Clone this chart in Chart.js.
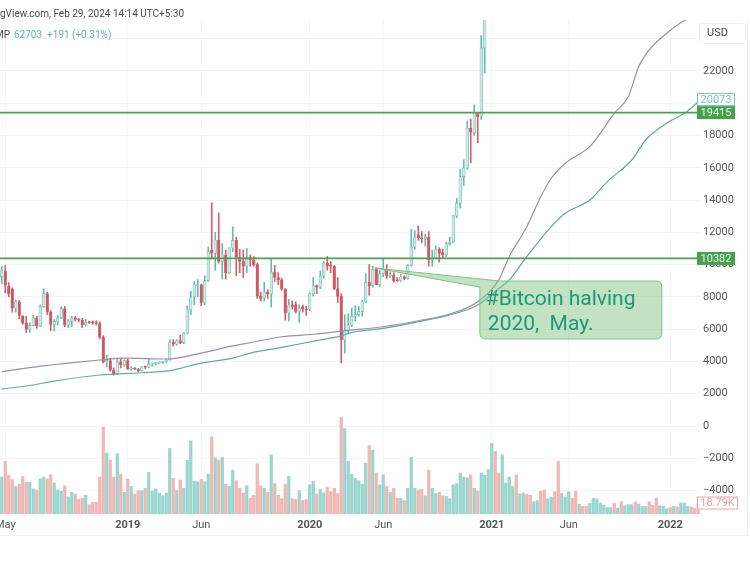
<!DOCTYPE html>
<html><head><meta charset="utf-8">
<style>
html,body{margin:0;padding:0;background:#fff;width:750px;height:562px;overflow:hidden;font-family:Roboto,sans-serif}
#wrap{position:relative;width:750px;height:562px}
canvas{position:absolute;left:0;top:0}
.h{position:absolute;white-space:nowrap;font-size:10px;line-height:14px}
</style>
<script src="https://cdn.jsdelivr.net/npm/chart.js@4/dist/chart.umd.min.js"></script>
</head><body><div id="wrap">
<canvas id="c" width="750" height="562"></canvas>
<div class="h" style="left:0;top:7px;color:#4a4a4a">gView.com, Feb 29, 2024 14:14 UTC+5:30</div>
<div class="h" style="left:-5px;top:28px;color:#4a4a4a">MP</div>
<div class="h" style="left:14px;top:28px;color:#5fb5aa">62703</div>
<div class="h" style="left:47px;top:28px;color:#5fb5aa">+191 (+0.31%)</div>
</div>
<script>
const weekCount = 200;
const tickWeeks = [1, 36, 57, 88, 109, 140, 162, 191];
const tickLabels = ['May', '2019', 'Jun', '2020', 'Jun', '2021', 'Jun', '2022'];
const yearTicks = ['2019', '2020', '2021', '2022'];
const priceTicks = [-4000,-2000,0,2000,4000,6000,8000,10000,12000,14000,16000,18000,20000,22000,24000];
const hiddenPriceTicks = [20000, 24000];

const opens = [9240,9600,8650,8500,7300,7700,6800,6400,6000,6220,6700,6200,7400,8200,7050,6300,6480,6700,7270,6250,6500,6700,6600,6550,6280,6420,6410,6380,6350,5510,3970,4050,3470,3200,3980,3800,4050,3530,3540,3530,3420,3660,3640,3830,3860,3900,3940,3970,4100,5200,5070,5300,5150,5750,7200,8000,8700,8750,7650,9000,10900,10700,11520,10200,10600,9500,11030,11500,10450,10200,9900,10450,10300,10000,8050,7950,8300,8200,9550,9200,9050,8500,7000,7500,7500,7100,7400,7250,7250,8200,8700,8600,9300,10100,9950,9900,8500,8030,5330,5900,6250,6800,6900,7100,7700,8900,8700,9700,8750,9450,9700,9300,9350,9050,9000,9250,9150,9950,11090,11850,11650,11600,11700,10300,10450,10950,10750,10600,11300,11400,13010,13800,15450,15980,18460,18150,19360,19190,23420];
const highs = [9900,9950,8880,8560,7800,7780,6850,6800,6400,6850,6800,7500,8500,8280,7150,6600,6880,7400,7400,6600,6800,6800,6650,6680,6600,6500,6520,6520,6450,5600,4400,4200,3600,4200,4200,4100,4150,3680,3620,3560,3680,3720,4200,3900,3920,3980,4020,4150,5350,5350,5350,5630,5800,7450,8350,8950,9080,8800,9300,11100,13830,12000,13200,11300,10900,11050,12350,11700,10950,10900,11000,10600,10500,10100,8300,8900,8450,10400,9950,9500,9150,8500,7850,7750,7700,7500,7500,7400,8250,9200,8750,9600,10200,10500,10200,9950,9200,8200,6900,6950,7300,7450,7400,7800,9450,10000,9900,9800,9650,10400,10000,9550,9500,9200,9400,9300,10000,12200,12100,12400,12050,11900,12050,10900,11150,11050,10950,11400,11700,13050,14100,15900,16500,18900,19000,19890,19400,24200,28400];
const lows = [8800,8250,8000,7050,7050,6650,6300,5780,5800,6200,6050,6150,7350,6900,5900,5880,6250,6650,6150,6100,6150,6500,6450,6100,6200,6350,6300,6250,5400,3900,3650,3400,3150,3180,3600,3700,3500,3450,3480,3350,3400,3550,3620,3700,3780,3850,3880,3920,4080,4950,5000,5100,5100,5700,6900,7500,8000,7450,7500,8950,10350,9660,10100,9100,9100,9450,10800,9300,9500,9200,9500,9900,9900,7900,7750,7750,7900,7370,8950,8750,8400,6550,6500,7250,7000,6430,7050,6850,7150,8050,8200,8500,9150,9650,9500,8450,7650,3900,4520,5700,6150,6500,6800,6800,7650,8100,8600,8800,8650,9250,9150,9200,8900,8950,8950,9050,9100,9900,10950,11500,11350,11150,9900,9900,10350,10150,10400,10500,11200,11350,12900,13500,14900,15900,16300,18000,17550,19000,21870];
const closes = [9650,8730,8200,7300,7700,6850,6400,6000,6220,6700,6200,7400,8200,7050,6300,6480,6700,7270,6250,6500,6700,6600,6550,6280,6420,6410,6380,6350,5510,3970,4050,3470,3200,3980,3800,4050,3530,3540,3530,3420,3660,3640,3830,3860,3900,3940,3970,4090,5200,5070,5300,5150,5750,7200,8000,8750,8750,7650,9000,10800,10700,11520,10200,10600,9500,11030,11500,10450,10200,9900,10450,10300,10000,8050,7900,8300,8200,9550,9200,9050,8500,7000,7500,7400,7100,7300,7250,7200,8200,8700,8600,9300,10100,9900,9900,8500,8030,5330,5900,6250,6800,6900,7100,7700,8900,8700,9700,8750,9450,9700,9300,9350,9000,9000,9250,9150,9950,11090,11700,11650,11600,11700,10300,10450,10950,10700,10600,11300,11400,13010,13800,15450,15980,18460,18200,19390,19160,23420,26500];

const volumes = [63,90,66,59,47,51,64,54,54,43,41,60,63,60,67,53,41,39,48,29,37,34,25,27,32,16,20,20,63,148,104,92,63,103,68,37,60,47,34,40,40,44,71,39,43,36,31,36,112,61,40,58,44,92,125,56,55,59,55,68,132,96,92,97,51,47,75,57,44,36,48,27,32,86,48,44,37,101,52,32,26,51,64,26,25,40,23,25,50,56,34,42,36,46,38,44,35,165,146,90,68,61,57,51,87,117,109,70,50,67,47,37,44,27,27,23,44,97,44,41,42,31,75,44,35,37,31,30,26,50,52,70,63,62,67,44,39,70,66,76,121,107,70,101,53,63,47,67,34,36,34,32,21,23,39,41,26,29,38,90,35,29,38,27,39,17,13,13,18,27,26,19,15,11,11,18,10,21,14,16,16,21,17,13,13,21,15,27,14,13,9,11,13,12,19,19,13,12,10,18.79];
const lateVolumeUp = [1,1,0,0,1,1,1,1,0,1,1,0,0,1,1,0,0,1,1,0,0,1,1,1,0,0,1,0,0,1,1,1,1,1,1,1,0,1,0,1,1,1,0,1,1,1,0,0,0,1,1,1,0,1,0,1,1,1,0,0,0];

const slowWeeks = [0,9,14,19,28,35,47,57,66,71,80,90,97,109,119,128,136,142,145,150,154,157,161,168,171,175,179,182,185,190,195,199];
const slowAverage = [3360,3650,3780,3900,4090,4210,4150,4520,4960,5160,5530,5700,5880,6150,6520,6940,7700,9050,10490,12350,14200,15350,16280,17310,18130,19370,20400,22270,23300,24330,25120,25500];
const fastWeeks = [0,9,14,28,40,48,57,66,71,80,90,97,100,109,119,128,136,142,145,150,157,161,168,173,180,184,190,195,199];
const fastAverage = [2290,2540,2750,3160,3300,3430,3900,4210,4520,4870,5290,5580,5800,6050,6460,6880,7500,8500,9050,10490,12350,13180,14000,15140,16480,17720,18770,19370,20073];

const supportLevels = [19415, 10382];
const lastFast = 20073;
const lastVolume = '18.79K';
const noteLines = ['#Bitcoin halving', '2020,  May.'];

const weekLabels = [];
for (let i = 0; i < weekCount; i++) weekLabels.push('w' + i);

const TEAL = '#67b9ae', TEAL_FILL = '#cdeae5', RED = '#d2616c', RED_FILL = '#cf5560';
const VOL_TEAL = '#9ad6cf', VOL_RED = '#f0b7b4';
const isUp = i => closes[i] >= opens[i];
const volUp = i => i < opens.length ? isUp(i) : lateVolumeUp[i - opens.length] === 1;

const overlay = {
  id: 'overlay',
  afterDatasetsDraw(chart) {
    const c = chart.ctx, a = chart.chartArea, X = chart.scales.x, Y = chart.scales.y, V = chart.scales.y2;
    const badgeL = 697, badgeR = 735;
    c.save();
    c.strokeStyle = '#4f9f53'; c.lineWidth = 1.8;
    supportLevels.forEach(v => { const p = Y.getPixelForValue(v); c.beginPath(); c.moveTo(0, p); c.lineTo(a.right, p); c.stroke(); });

    // callout
    const bx0 = X.getPixelForValue(136.6), bx1 = X.getPixelForValue(188.6);
    const by0 = Y.getPixelForValue(8984), by1 = Y.getPixelForValue(5390);
    const ax = X.getPixelForValue(106.6), ay = Y.getPixelForValue(9790);
    const rr = 6;
    c.beginPath();
    c.moveTo(ax, ay);
    c.lineTo(bx0 + 20, by0);
    c.lineTo(bx1 - rr, by0); c.quadraticCurveTo(bx1, by0, bx1, by0 + rr);
    c.lineTo(bx1, by1 - rr); c.quadraticCurveTo(bx1, by1, bx1 - rr, by1);
    c.lineTo(bx0 + rr, by1); c.quadraticCurveTo(bx0, by1, bx0, by1 - rr);
    c.lineTo(bx0, by0 + 6);
    c.closePath();
    c.fillStyle = 'rgba(120,190,120,0.45)'; c.fill();
    c.strokeStyle = '#86bf88'; c.lineWidth = 1; c.stroke();
    c.fillStyle = '#1c9a78'; c.font = '21px Roboto'; c.textAlign = 'left'; c.textBaseline = 'alphabetic';
    c.fillText(noteLines[0], bx0 + 6, by0 + 24);
    c.fillText(noteLines[1], bx0 + 8, by0 + 49);

    // value badges
    c.font = '11px Roboto'; c.textAlign = 'center'; c.textBaseline = 'middle';
    const badge = (txt, p, fill, stroke, col, right) => {
      c.fillStyle = fill; c.fillRect(badgeL, p - 6.5, right - badgeL, 13);
      if (stroke) { c.strokeStyle = stroke; c.lineWidth = 1; c.strokeRect(badgeL + .5, p - 6, right - badgeL - 1, 12); }
      c.fillStyle = col; c.fillText(txt, (badgeL + right) / 2, p + .5);
    };
    badge(String(lastFast), Y.getPixelForValue(lastFast) - 2.5, '#fff', '#7cc4ba', '#7cc4ba', badgeR);
    supportLevels.forEach(v => badge(String(v), Y.getPixelForValue(v), '#46a04c', null, '#e9f5e9', badgeR));
    badge(lastVolume, V.getPixelForValue(volumes[volumes.length - 1]), '#fff', '#e3a5a3', '#e3a5a3', 738);

    // currency box
    c.fillStyle = '#fff'; c.strokeStyle = '#efefef'; c.lineWidth = 1;
    c.beginPath(); c.roundRect(699.5, 23.5, 46, 20, 3); c.fill(); c.stroke();
    c.fillStyle = '#444'; c.textAlign = 'left'; c.fillText('USD', 707, 33.5);

    // frame
    c.strokeStyle = '#f1f1f1'; c.beginPath(); c.moveTo(0, 535.5); c.lineTo(747.5, 535.5); c.lineTo(747.5, 20); c.stroke();
    c.restore();
  }
};

new Chart(document.getElementById('c'), {
  data: {
    labels: weekLabels,
    datasets: [
      { type: 'line', order: 1, yAxisID: 'y', data: slowWeeks.map((w, i) => ({ x: weekLabels[w], y: slowAverage[i] })),
        borderColor: '#9a8fa8', borderWidth: 1.2, pointRadius: 0, cubicInterpolationMode: 'monotone' },
      { type: 'line', order: 1, yAxisID: 'y', data: fastWeeks.map((w, i) => ({ x: weekLabels[w], y: fastAverage[i] })),
        borderColor: '#5fa8a2', borderWidth: 1.2, pointRadius: 0, cubicInterpolationMode: 'monotone' },
      { type: 'bar', order: 2, grouped: false, yAxisID: 'y', barThickness: 2.6, minBarLength: 1,
        data: opens.map((o, i) => [Math.min(o, closes[i]), Math.max(o, closes[i])]),
        backgroundColor: opens.map((o, i) => isUp(i) ? TEAL_FILL : RED_FILL),
        borderColor: opens.map((o, i) => isUp(i) ? TEAL : RED), borderWidth: 0.6, borderSkipped: false },
      { type: 'bar', order: 3, grouped: false, yAxisID: 'y', barThickness: 1,
        data: lows.map((l, i) => [l, highs[i]]),
        backgroundColor: opens.map((o, i) => isUp(i) ? TEAL : RED) },
      { type: 'bar', order: 4, grouped: false, yAxisID: 'y2', barThickness: 2.6,
        data: volumes,
        backgroundColor: volumes.map((v, i) => volUp(i) ? VOL_TEAL : VOL_RED) }
    ]
  },
  options: {
    responsive: false, animation: false, devicePixelRatio: 1,
    layout: { padding: { top: 20, bottom: 27, left: 0, right: 0 } },
    plugins: { legend: { display: false }, tooltip: { enabled: false } },
    scales: {
      x: {
        type: 'category', offset: true,
        grid: { color: 'rgba(0,0,0,0.04)', offset: false, drawTicks: false },
        border: { display: false },
        afterBuildTicks: s => { s.ticks = tickWeeks.map(v => ({ value: v })); },
        afterFit: s => { s.height = 21; s.paddingLeft = 0; s.paddingRight = 0; },
        ticks: {
          autoSkip: false, maxRotation: 0, padding: 5, color: '#555',
          callback: (v, i) => tickLabels[i],
          font: ctx => ({ family: 'Roboto', size: 11, weight: yearTicks.includes(tickLabels[ctx.index]) ? 'bold' : 'normal' })
        }
      },
      y: {
        type: 'linear', position: 'right', min: -5452, max: 25155,
        grid: { color: 'rgba(0,0,0,0.04)', drawTicks: false },
        border: { display: false },
        afterBuildTicks: s => { s.ticks = priceTicks.map(v => ({ value: v })); },
        afterFit: s => { s.width = 50; s.paddingTop = 0; s.paddingBottom = 0; },
        ticks: {
          autoSkip: false, padding: 3, color: '#555',
          font: { family: 'Roboto', size: 11 },
          callback: v => hiddenPriceTicks.includes(v) ? '' : String(v).replace('-', '\u2212')
        }
      },
      y2: { type: 'linear', display: false, min: 0, max: 844, position: 'left' }
    }
  },
  plugins: [overlay]
});
</script></body></html>
